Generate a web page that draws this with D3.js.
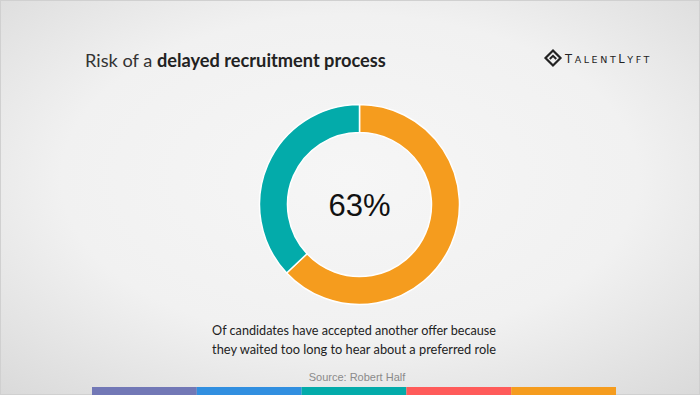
<!DOCTYPE html>
<html>
<head>
<meta charset="utf-8">
<script src="https://cdn.jsdelivr.net/npm/d3@7"></script>
<style>
  html, body { margin: 0; padding: 0; background: #fff; }
  svg { display: block; }
</style>
</head>
<body>
<svg width="700" height="395"></svg>
<script>
// chart data
var sliceLabels = ["Accepted another offer", "Other"];
var sliceValues = [63, 37];
var sliceColors = ["#f59c1e", "#03abaa"];
var centerLabel = "63%";
var captionLines = ["Of candidates have accepted another offer because",
                    "they waited too long to hear about a preferred role"];
var barColors = ["#7278b6", "#318fe0", "#03abaa", "#ff5b5a", "#f59c1e"];

var svg = d3.select("svg"),
    W = 700, H = 395;

// shrink / grow a text's font-size so it spans the wanted width
function fitWidth(sel, target) {
  var node = sel.node(),
      fs = +sel.attr("font-size"),
      w = node.getComputedTextLength();
  sel.attr("font-size", (fs * target / w).toFixed(2));
}

// background
var defs = svg.append("defs");
var grad = defs.append("radialGradient")
    .attr("id", "bg")
    .attr("cx", "50%").attr("cy", "45%").attr("r", "75%");
grad.append("stop").attr("offset", "0%").attr("stop-color", "#f6f6f6");
grad.append("stop").attr("offset", "55%").attr("stop-color", "#f1f1f1");
grad.append("stop").attr("offset", "100%").attr("stop-color", "#d9d9d9");

svg.append("rect")
    .attr("width", W).attr("height", H)
    .attr("fill", "url(#bg)");
svg.append("rect")
    .attr("x", 0.5).attr("y", 0.5)
    .attr("width", W - 1).attr("height", H - 1)
    .attr("fill", "none")
    .attr("stroke", "#d0d0d0");

// title
var title = svg.append("text")
    .attr("x", 85).attr("y", 67)
    .attr("font-family", "Lato, 'Open Sans', sans-serif")
    .attr("font-size", 18)
    .attr("fill", "#333");
title.append("tspan").text("Risk of a ");
title.append("tspan").attr("font-weight", "bold").attr("fill", "#222")
    .text("delayed recruitment process");
fitWidth(title, 301);

// logo
var logo = svg.append("g").attr("transform", "translate(553,58)");
logo.append("path")
    .attr("d", "M0,-7.5 L7.5,0 L0,7.5 L-7.5,0 Z")
    .attr("fill", "none")
    .attr("stroke", "#222")
    .attr("stroke-width", 2.2);
logo.append("path")
    .attr("d", "M-3.2,1 L0,-2.2 L3.2,1")
    .attr("fill", "none")
    .attr("stroke", "#222")
    .attr("stroke-width", 2);
var logoText = logo.append("text")
    .attr("x", 12).attr("y", 4.5)
    .attr("font-family", "'DejaVu Sans', sans-serif")
    .attr("font-size", 11)
    .attr("fill", "#222");
[["T", 11.5], ["ALENT", 9.5], ["L", 11.5], ["YFT", 9.5]].forEach(function(p) {
  logoText.append("tspan").attr("font-size", p[1]).text(p[0]);
});
// spread letters so the word runs to x = 652
var logoW = logoText.node().getComputedTextLength();
logoText.attr("letter-spacing", ((87 - logoW) / 10).toFixed(2));

// donut
var cx = 359.5, cy = 204.5, outerR = 100, innerR = 72;
var pie = d3.pie().sort(null).value(function(d) { return d; });
var arc = d3.arc().innerRadius(innerR).outerRadius(outerR);

var gDonut = svg.append("g").attr("transform", "translate(" + cx + "," + cy + ")");
gDonut.selectAll(".slice")
    .data(pie(sliceValues))
    .enter().append("path")
      .attr("class", "slice")
      .attr("d", arc)
      .attr("fill", function(d, i) { return sliceColors[i]; })
      .attr("stroke", "#fff")
      .attr("stroke-width", 1.5)
      .append("title").text(function(d, i) { return sliceLabels[i]; });

gDonut.append("text")
    .attr("text-anchor", "middle")
    .attr("y", 11)
    .attr("font-family", "'Liberation Sans', Arial, sans-serif")
    .attr("font-size", 31)
    .attr("fill", "#111")
    .text(centerLabel);

// caption
svg.selectAll(".caption")
    .data(captionLines)
    .enter().append("text")
      .attr("class", "caption")
      .attr("x", 354)
      .attr("y", function(d, i) { return 335 + i * 18.5; })
      .attr("text-anchor", "middle")
      .attr("font-family", "Lato, 'Open Sans', sans-serif")
      .attr("font-size", 14)
      .attr("fill", "#222")
      .text(function(d) { return d; })
      .each(function() { fitWidth(d3.select(this), 284); });

svg.append("text")
    .attr("x", 357).attr("y", 381)
    .attr("text-anchor", "middle")
    .attr("font-family", "'Liberation Sans', Arial, sans-serif")
    .attr("font-size", 11)
    .attr("fill", "#8a8a8a")
    .text("Source: Robert Half");

// bottom colour strip
var xBar = d3.scaleBand()
    .domain(d3.range(barColors.length))
    .range([92, 616]);
svg.selectAll(".strip")
    .data(barColors)
    .enter().append("rect")
      .attr("class", "strip")
      .attr("x", function(d, i) { return xBar(i); })
      .attr("y", 387)
      .attr("width", xBar.bandwidth())
      .attr("height", 8)
      .attr("fill", function(d) { return d; });
</script>
</body>
</html>
